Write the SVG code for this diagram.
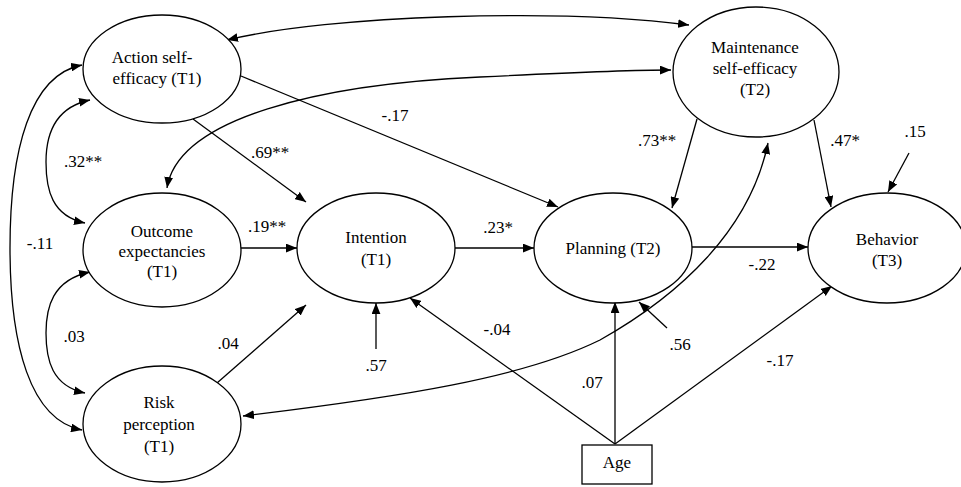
<svg xmlns="http://www.w3.org/2000/svg" width="961" height="487" viewBox="0 0 961 487" font-family="Liberation Serif, Times New Roman, serif" font-size="17">
<style>
.n{fill:#fff;stroke:#000;stroke-width:1.3}
.t{fill:#000;text-anchor:middle}
.c{fill:none;stroke:#000;stroke-width:1.3}
</style>
<defs>
<marker id="a" viewBox="0 0 10 8" refX="10" refY="4" markerWidth="11" markerHeight="9" markerUnits="userSpaceOnUse" orient="auto-start-reverse"><path d="M0,0 L10,4 L0,8 z" fill="#000"/></marker>
</defs>
<rect width="961" height="487" fill="#fff"/>
<g id="connectors">
<path class="c" d="M227,40 C330,15 560,8 689,25" marker-start="url(#a)" marker-end="url(#a)"/>
<path class="c" d="M167,188 C178,118 320,84 480,77 C560,73 620,70 671,70" marker-start="url(#a)" marker-end="url(#a)"/>
<path class="c" d="M243,416 C400,397 523,378 600,340 C680,295 750,230 768,143" marker-start="url(#a)" marker-end="url(#a)"/>
<path class="c" d="M82,65 C30,75 10,150 10,248 C10,345 30,420 82,430" marker-start="url(#a)" marker-end="url(#a)"/>
<path class="c" d="M90,100 C52,108 46,138 46,162 C46,190 52,216 85,223" marker-start="url(#a)" marker-end="url(#a)"/>
<path class="c" d="M90,272 C52,280 46,308 46,333 C46,360 52,386 85,393" marker-start="url(#a)" marker-end="url(#a)"/>
<line class="c" x1="241" y1="76" x2="558" y2="207" marker-end="url(#a)"/>
<line class="c" x1="193" y1="119" x2="306" y2="202" marker-end="url(#a)"/>
<line class="c" x1="241" y1="248" x2="297" y2="248" marker-end="url(#a)"/>
<line class="c" x1="217" y1="383" x2="306" y2="305" marker-end="url(#a)"/>
<line class="c" x1="376" y1="349" x2="376" y2="303" marker-end="url(#a)"/>
<line class="c" x1="455" y1="248" x2="534" y2="248" marker-end="url(#a)"/>
<line class="c" x1="692" y1="247" x2="808" y2="247" marker-end="url(#a)"/>
<line class="c" x1="697" y1="119" x2="672" y2="208" marker-end="url(#a)"/>
<line class="c" x1="814" y1="120" x2="831" y2="207" marker-end="url(#a)"/>
<line class="c" x1="909" y1="153" x2="888" y2="192" marker-end="url(#a)"/>
<line class="c" x1="667" y1="328" x2="639" y2="302" marker-end="url(#a)"/>
<line class="c" x1="615" y1="444" x2="410" y2="298" marker-end="url(#a)"/>
<line class="c" x1="615" y1="444" x2="615" y2="302" marker-end="url(#a)"/>
<line class="c" x1="615" y1="444" x2="832" y2="286" marker-end="url(#a)"/>
</g>
<g id="labels">
<text class="t" x="395" y="121">-.17</text>
<text class="t" x="270" y="158">.69**</text>
<text class="t" x="83" y="167">.32**</text>
<text class="t" x="40" y="249">-.11</text>
<text class="t" x="267" y="232">.19**</text>
<text class="t" x="74" y="342">.03</text>
<text class="t" x="228" y="349">.04</text>
<text class="t" x="376" y="371">.57</text>
<text class="t" x="498" y="233">.23*</text>
<text class="t" x="657" y="146">.73**</text>
<text class="t" x="845" y="146">.47*</text>
<text class="t" x="915" y="137">.15</text>
<text class="t" x="762" y="270">-.22</text>
<text class="t" x="497" y="335">-.04</text>
<text class="t" x="680" y="350">.56</text>
<text class="t" x="592" y="388">.07</text>
<text class="t" x="780" y="366">-.17</text>
</g>
<g id="action-self-efficacy">
<ellipse class="n" cx="162" cy="69" rx="79" ry="54"/>
<text class="t" x="152" y="63">Action self-</text>
<text class="t" x="157" y="84">efficacy (T1)</text>
</g>
<g id="outcome-expectancies">
<ellipse class="n" cx="162" cy="250" rx="79" ry="57"/>
<text class="t" x="162" y="237">Outcome</text>
<text class="t" x="162" y="257">expectancies</text>
<text class="t" x="162" y="277">(T1)</text>
</g>
<g id="risk-perception">
<ellipse class="n" cx="162" cy="424" rx="79" ry="58"/>
<text class="t" x="159" y="408">Risk</text>
<text class="t" x="159" y="430">perception</text>
<text class="t" x="159" y="452">(T1)</text>
</g>
<g id="intention">
<ellipse class="n" cx="376" cy="248" rx="79" ry="55"/>
<text class="t" x="376" y="243">Intention</text>
<text class="t" x="376" y="265">(T1)</text>
</g>
<g id="maintenance-self-efficacy">
<ellipse class="n" cx="756" cy="72" rx="83" ry="65"/>
<text class="t" x="755" y="53">Maintenance</text>
<text class="t" x="755" y="74">self-efficacy</text>
<text class="t" x="755" y="95">(T2)</text>
</g>
<g id="planning">
<ellipse class="n" cx="613" cy="248" rx="79" ry="55"/>
<text class="t" x="613" y="254">Planning (T2)</text>
</g>
<g id="behavior">
<ellipse class="n" cx="887" cy="248" rx="79" ry="55"/>
<text class="t" x="887" y="245">Behavior</text>
<text class="t" x="887" y="266">(T3)</text>
</g>
<g id="age">
<rect class="n" x="582" y="445" width="70" height="39"/>
<text class="t" x="617" y="468">Age</text>
</g>
</svg>
